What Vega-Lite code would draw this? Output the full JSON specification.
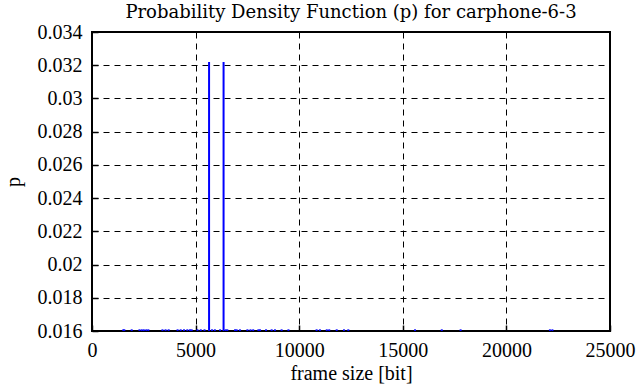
{
  "$schema": "https://vega.github.io/schema/vega-lite/v6.json",
  "width": 518,
  "height": 299,
  "autosize": {"type": "none"},
  "padding": {"left": 92, "top": 32, "right": 26, "bottom": 56},
  "background": "white",
  "title": {
    "text": "Probability Density Function (p) for carphone-6-3",
    "font": "DejaVu Serif",
    "fontSize": 18,
    "fontWeight": "normal",
    "color": "black",
    "offset": 0
  },
  "config": {
    "font": "Liberation Serif",
    "view": {"stroke": "black", "strokeWidth": 2},
    "axis": {
      "labelFont": "Liberation Serif",
      "labelFontSize": 20,
      "labelColor": "black",
      "titleFont": "Liberation Serif",
      "titleFontSize": 20,
      "titleFontWeight": "normal",
      "titleColor": "black",
      "domain": false,
      "grid": true,
      "gridColor": "black",
      "gridDash": [6, 5],
      "gridWidth": 1,
      "gridOpacity": 1,
      "ticks": true,
      "tickColor": "black",
      "tickWidth": 1.5,
      "tickSize": -6
    }
  },
  "data": {
    "values": [
      {"size": 1510, "p": 0.0161},
      {"size": 1560, "p": 0.0161},
      {"size": 1915, "p": 0.0161},
      {"size": 2290, "p": 0.0161},
      {"size": 2400, "p": 0.0161},
      {"size": 2500, "p": 0.0161},
      {"size": 2620, "p": 0.0161},
      {"size": 2720, "p": 0.0161},
      {"size": 3400, "p": 0.0161},
      {"size": 3550, "p": 0.0161},
      {"size": 3700, "p": 0.0161},
      {"size": 4130, "p": 0.0161},
      {"size": 4280, "p": 0.0161},
      {"size": 4440, "p": 0.0161},
      {"size": 4600, "p": 0.0161},
      {"size": 4730, "p": 0.0161},
      {"size": 4810, "p": 0.0161},
      {"size": 5090, "p": 0.0161},
      {"size": 5250, "p": 0.0161},
      {"size": 5430, "p": 0.0161},
      {"size": 5650, "p": 0.0322},
      {"size": 5790, "p": 0.0161},
      {"size": 5930, "p": 0.0161},
      {"size": 6180, "p": 0.0161},
      {"size": 6350, "p": 0.0322},
      {"size": 6450, "p": 0.0161},
      {"size": 6530, "p": 0.0161},
      {"size": 6900, "p": 0.0161},
      {"size": 6980, "p": 0.0161},
      {"size": 7140, "p": 0.0161},
      {"size": 7500, "p": 0.0161},
      {"size": 7650, "p": 0.0161},
      {"size": 7780, "p": 0.0161},
      {"size": 8030, "p": 0.0161},
      {"size": 8110, "p": 0.0161},
      {"size": 8400, "p": 0.0161},
      {"size": 8670, "p": 0.0161},
      {"size": 8830, "p": 0.0161},
      {"size": 9150, "p": 0.0161},
      {"size": 9480, "p": 0.0161},
      {"size": 10840, "p": 0.0161},
      {"size": 11000, "p": 0.0161},
      {"size": 11330, "p": 0.0161},
      {"size": 11450, "p": 0.0161},
      {"size": 11810, "p": 0.0161},
      {"size": 12160, "p": 0.0161},
      {"size": 12370, "p": 0.0161},
      {"size": 15590, "p": 0.0161},
      {"size": 16880, "p": 0.0161},
      {"size": 17790, "p": 0.0161},
      {"size": 22100, "p": 0.0161},
      {"size": 22220, "p": 0.0161}
    ]
  },
  "mark": {"type": "rule", "color": "#0000ff", "strokeWidth": 2, "clip": true},
  "encoding": {
    "x": {
      "field": "size",
      "type": "quantitative",
      "scale": {"domain": [0, 25000], "nice": false, "zero": false},
      "axis": {
        "title": "frame size [bit]",
        "values": [0, 5000, 10000, 15000, 20000, 25000],
        "format": "d",
        "labelPadding": 15,
        "titlePadding": 3,
        "labelFlush": false
      }
    },
    "y": {
      "field": "p",
      "type": "quantitative",
      "scale": {"domain": [0.016, 0.034], "nice": false, "zero": false},
      "axis": {
        "title": "p",
        "values": [0.016, 0.018, 0.02, 0.022, 0.024, 0.026, 0.028, 0.03, 0.032, 0.034],
        "format": "~g",
        "labelPadding": 16,
        "titlePadding": 14,
        "labelFlush": false
      }
    },
    "y2": {"datum": 0.016}
  }
}
